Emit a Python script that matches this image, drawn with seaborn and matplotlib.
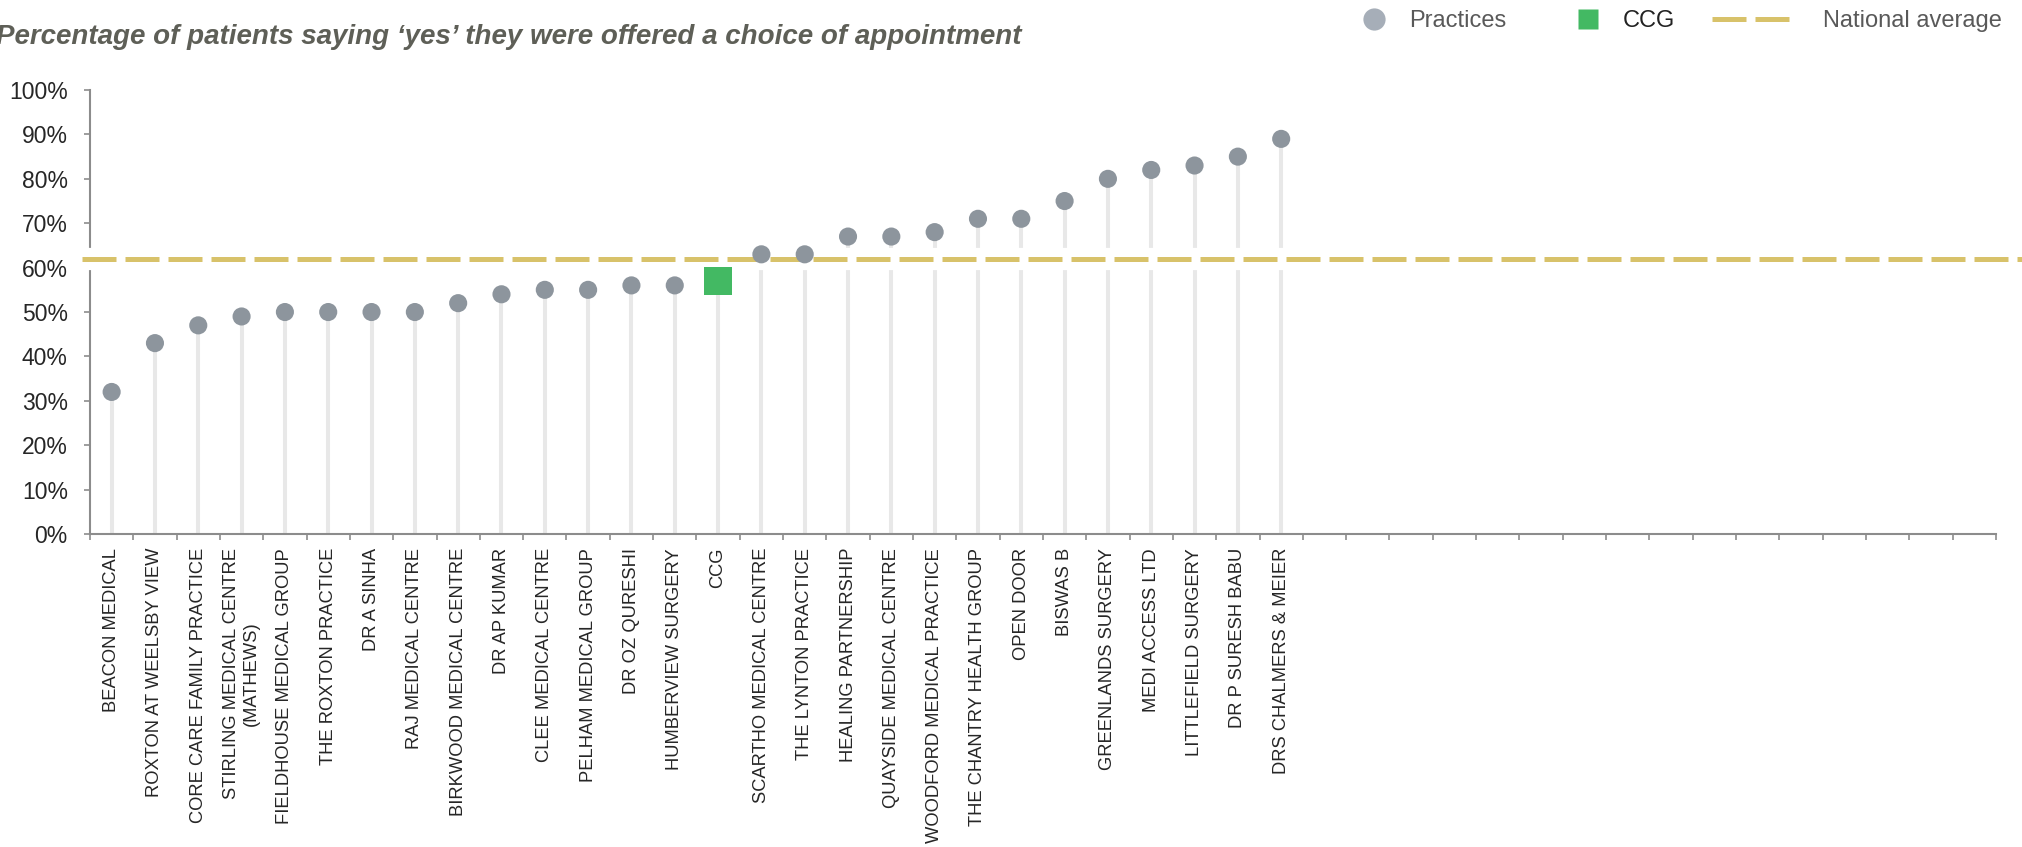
import numpy as np
import pandas as pd
import matplotlib
matplotlib.use("Agg")
import matplotlib.pyplot as plt
import seaborn as sns
from matplotlib.lines import Line2D
from matplotlib.ticker import FixedLocator, FuncFormatter

# --- data ---
practices = [
    "BEACON MEDICAL", "ROXTON AT WEELSBY VIEW", "CORE CARE FAMILY PRACTICE",
    "STIRLING MEDICAL CENTRE\n(MATHEWS)", "FIELDHOUSE MEDICAL GROUP",
    "THE ROXTON PRACTICE", "DR A SINHA", "RAJ MEDICAL CENTRE",
    "BIRKWOOD MEDICAL CENTRE", "DR AP KUMAR", "CLEE MEDICAL CENTRE",
    "PELHAM MEDICAL GROUP", "DR OZ QURESHI", "HUMBERVIEW SURGERY", "CCG",
    "SCARTHO MEDICAL CENTRE", "THE LYNTON PRACTICE", "HEALING PARTNERSHIP",
    "QUAYSIDE MEDICAL CENTRE", "WOODFORD MEDICAL PRACTICE",
    "THE CHANTRY HEALTH GROUP", "OPEN DOOR", "BISWAS B", "GREENLANDS SURGERY",
    "MEDI ACCESS LTD", "LITTLEFIELD SURGERY", "DR P SURESH BABU",
    "DRS CHALMERS & MEIER",
]
pct_yes = [32, 43, 47, 49, 50, 50, 50, 50, 52, 54, 55, 55, 56, 56, 57,
           63, 63, 67, 67, 68, 71, 71, 75, 80, 82, 83, 85, 89]
national_average = 62
n_slots = 44  # chart keeps empty category slots on the right
y_ticks = [0, 10, 20, 30, 40, 50, 60, 70, 80, 90, 100]

title = "Percentage of patients saying \u2018yes\u2019 they were offered a choice of appointment"

# colours
C_POINT = "#8D959D"
C_LEG_POINT = "#A6AEB8"
C_STEM = "#E8E8E8"
C_CCG = "#43B963"
C_NAT = "#D8C26A"
C_AXIS = "#8C8C8C"
C_TEXT = "#262626"

sns.set_style("white")
plt.rcParams["font.family"] = ["Liberation Sans", "DejaVu Sans"]

df = pd.DataFrame({"name": practices, "pct": pct_yes})
df["pos"] = np.arange(len(df))
df["kind"] = np.where(df["name"] == "CCG", "CCG", "Practices")

fig = plt.figure(figsize=(20.22, 8.47), dpi=100)
ax = fig.add_axes([0.0445, 0.3695, 0.9426, 0.5242])

# stems
ax.vlines(df["pos"], 0, df["pct"], color=C_STEM, lw=2.9, zorder=1)

# white band + dashed national average
ax.plot([-0.004, 1.014], [national_average, national_average], color="white",
        lw=16, solid_capstyle="butt", transform=ax.get_yaxis_transform(),
        clip_on=False, zorder=3)
ax.plot([-0.004, 1.014], [national_average, national_average], color=C_NAT,
        lw=3.6, dashes=(6.8, 1.8), transform=ax.get_yaxis_transform(),
        clip_on=False, zorder=4)

# points
sns.scatterplot(data=df[df["kind"] == "Practices"], x="pos", y="pct", ax=ax,
                s=170, color=C_POINT, edgecolor="none", legend=False, zorder=5)
sns.scatterplot(data=df[df["kind"] == "CCG"], x="pos", y="pct", ax=ax,
                marker="s", s=400, color=C_CCG, edgecolor="none", legend=False,
                zorder=5)

ax.set_xlim(-0.5, n_slots - 0.5)
ax.set_ylim(0, 100)
ax.set_xlabel("")
ax.set_ylabel("")

# x axis: labels at centres, tick marks at boundaries
ax.xaxis.set_major_locator(FixedLocator(df["pos"].tolist()))
ax.set_xticklabels(practices, rotation=90, fontsize=13.2, color=C_TEXT)
ax.xaxis.set_minor_locator(FixedLocator(np.arange(n_slots + 1) - 0.5))
ax.tick_params(axis="x", which="major", length=0, pad=10)
ax.tick_params(axis="x", which="minor", length=4, width=1.2, color=C_AXIS,
               bottom=True)

ax.yaxis.set_major_locator(FixedLocator(y_ticks))
ax.yaxis.set_major_formatter(FuncFormatter(lambda v, p: f"{v:.0f}%"))
ax.tick_params(axis="y", length=4, width=1.2, color=C_AXIS, labelsize=16.5,
               labelcolor=C_TEXT, pad=12, left=True)

for side in ["top", "right"]:
    ax.spines[side].set_visible(False)
for side in ["left", "bottom"]:
    ax.spines[side].set_color(C_AXIS)
    ax.spines[side].set_linewidth(1.5)
    ax.spines[side].set_zorder(2)

# title
fig.text(-0.002, 1 - 37 / 847, title, fontsize=20, fontweight="bold",
         style="italic", color="#5E5F57", ha="left", va="center")

# legend, one entry at a time
leg_y = 1 - 21 / 847
entries = [
    (Line2D([], [], ls="none", marker="o", ms=16, color=C_LEG_POINT, mec="none"),
     "Practices", "#595959", 1362 / 2022, 1.0, 1.0),
    (Line2D([], [], ls="none", marker="s", ms=15, color=C_CCG, mec="none"),
     "CCG", "#222222", 1576 / 2022, 1.0, 1.0),
    (Line2D([], [], color=C_NAT, lw=3.6, dashes=(6.8, 1.8)),
     "National average", "#595959", 1712 / 2022, 3.5, 1.2),
]
for handle, label, tcol, xpos, hlen, tpad in entries:
    leg = fig.legend(handles=[handle], labels=[label], loc="center left",
                     bbox_to_anchor=(xpos, leg_y), frameon=False,
                     fontsize=17, handlelength=hlen, handletextpad=tpad,
                     borderpad=0, borderaxespad=0)
    for t in leg.get_texts():
        t.set_color(tcol)

fig.savefig("out.png", dpi=100)
